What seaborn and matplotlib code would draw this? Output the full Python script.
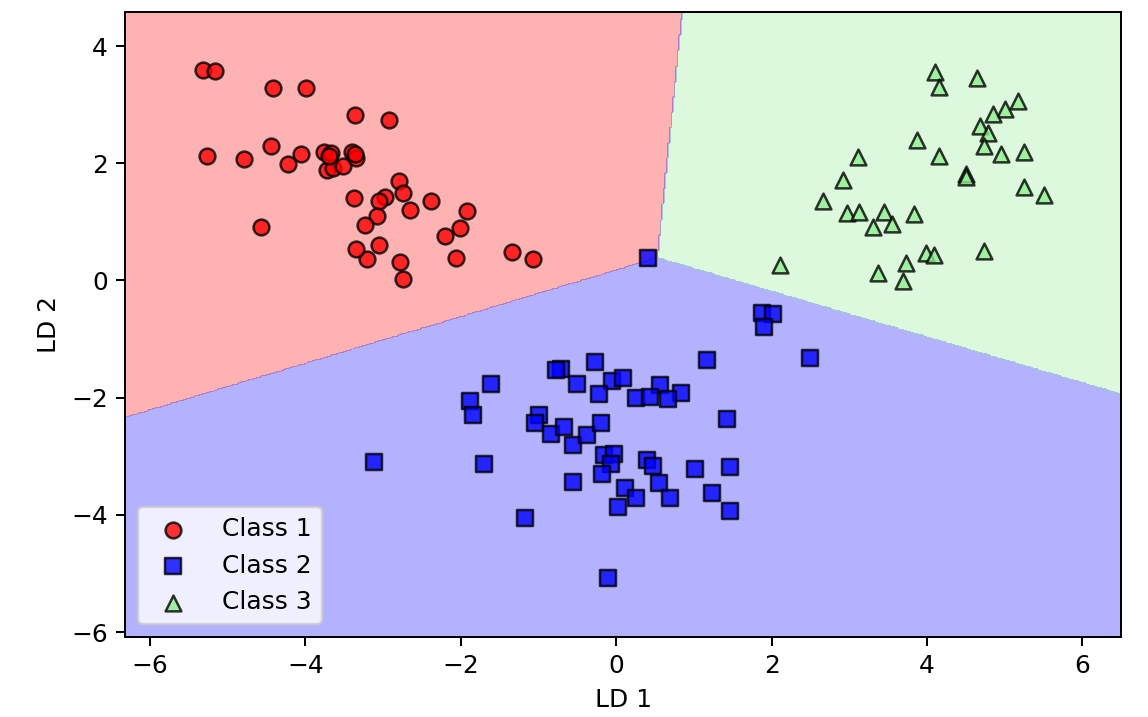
import numpy as np
import pandas as pd
import matplotlib
matplotlib.use("Agg")
import matplotlib.pyplot as plt
from matplotlib.colors import ListedColormap
import seaborn as sns

# ---- data (LD1, LD2) per class ----
class1_ld1 = [-5.32, -5.16, -4.42, -3.99, -3.36, -2.93, -5.27, -4.79, -4.44, -4.22,
              -4.06, -3.76, -3.67, -3.72, -3.65, -3.52, -3.40, -3.35, -2.79, -2.75,
              -2.97, -3.05, -2.65, -2.38, -3.08, -3.24, -1.92, -2.01, -2.21, -3.05,
              -3.21, -2.78, -2.74, -2.06, -1.34, -1.07, -4.57, -3.38, -3.35, -3.70, -3.36]
class1_ld2 = [3.59, 3.57, 3.29, 3.29, 2.82, 2.73, 2.13, 2.08, 2.29, 1.98,
              2.16, 2.19, 2.18, 1.89, 1.92, 1.96, 2.19, 2.09, 1.70, 1.50,
              1.43, 1.35, 1.21, 1.35, 1.10, 0.94, 1.19, 0.90, 0.75, 0.61,
              0.37, 0.31, 0.02, 0.39, 0.48, 0.36, 0.91, 1.41, 0.53, 2.13, 2.15]

class2_ld1 = [-1.61, -1.88, -1.84, -0.71, -0.78, -0.51, -1.00, -1.04, -0.84, -0.67,
              -0.56, -0.37, -3.12, -1.70, -1.18, -0.56, 1.87, 2.02, 1.90, 1.17,
              2.50, -0.27, -0.05, 0.09, -0.22, 0.56, 0.83, 0.25, 0.44, 0.67,
              1.42, -0.20, -0.16, -0.03, -0.07, -0.18, 0.39, 0.47, 0.55, 0.69,
              0.11, 0.26, 0.02, 1.02, 1.46, 1.23, 1.47, -0.11, 0.41]
class2_ld2 = [-1.77, -2.05, -2.30, -1.51, -1.53, -1.77, -2.30, -2.43, -2.62, -2.50,
              -2.81, -2.64, -3.10, -3.14, -4.06, -3.44, -0.55, -0.57, -0.79, -1.35,
              -1.33, -1.40, -1.71, -1.67, -1.94, -1.78, -1.92, -2.01, -1.99, -2.03,
              -2.37, -2.43, -2.98, -2.97, -3.13, -3.30, -3.07, -3.16, -3.45, -3.71,
              -3.55, -3.72, -3.87, -3.22, -3.18, -3.62, -3.94, -5.08, 0.38]

class3_ld1 = [3.11, 2.92, 2.66, 2.97, 3.13, 3.30, 3.45, 3.55, 3.83, 3.87,
              2.11, 3.37, 3.73, 3.69, 4.10, 4.16, 4.65, 5.17, 5.01, 4.85,
              4.68, 4.79, 4.74, 4.95, 5.25, 4.16, 4.50, 4.50, 5.25, 5.51,
              3.99, 4.09, 4.74]
class3_ld2 = [2.11, 1.71, 1.35, 1.15, 1.16, 0.92, 1.16, 0.97, 1.13, 2.40,
              0.26, 0.13, 0.29, -0.01, 3.55, 3.30, 3.45, 3.07, 2.92, 2.84,
              2.64, 2.52, 2.29, 2.15, 2.20, 2.13, 1.81, 1.76, 1.59, 1.45,
              0.46, 0.43, 0.50]

class_labels = ["Class 1", "Class 2", "Class 3"]

# linear classifier (one score per class) used for the decision regions
coef_ld1 = [-0.4227, 0.0, 0.39]
coef_ld2 = [1.062, 0.0, 1.0]
intercepts = [-0.190, 0.0, -0.597]

colors = ["red", "blue", "lightgreen"]
markers = ["o", "s", "^"]

# ---- build frame ----
df = pd.DataFrame({
    "LD1": class1_ld1 + class2_ld1 + class3_ld1,
    "LD2": class1_ld2 + class2_ld2 + class3_ld2,
    "cls": [class_labels[0]] * len(class1_ld1)
           + [class_labels[1]] * len(class2_ld1)
           + [class_labels[2]] * len(class3_ld1),
})

fig = plt.figure(figsize=(6.4, 3.995), dpi=179.5)
ax = fig.add_axes([0.109, 0.112, 0.867, 0.871])

x_min, x_max = df["LD1"].min() - 1, df["LD1"].max() + 1
y_min, y_max = df["LD2"].min() - 1, df["LD2"].max() + 1
xx1, xx2 = np.meshgrid(np.arange(x_min, x_max, 0.02), np.arange(y_min, y_max, 0.02))
scores = np.stack([coef_ld1[k] * xx1 + coef_ld2[k] * xx2 + intercepts[k] for k in range(3)])
Z = np.argmax(scores, axis=0) + 1
cmap = ListedColormap(colors)
ax.contourf(xx1, xx2, Z, levels=[0.5, 1.5, 2.5, 3.5], alpha=0.3, cmap=cmap)
ax.set_xlim(xx1.min(), xx1.max())
ax.set_ylim(xx2.min(), xx2.max())

for lab, c, m in zip(class_labels, colors, markers):
    sub = df[df["cls"] == lab]
    sns.scatterplot(data=sub, x="LD1", y="LD2", color=c, marker=m, s=40,
                    alpha=0.8, edgecolor="black", linewidth=1, label=lab, ax=ax)

ax.set_xlabel("LD 1")
ax.set_ylabel("LD 2")
ax.legend(loc="lower left", handletextpad=1.0)

fig.savefig("out.png", dpi=179.5)
